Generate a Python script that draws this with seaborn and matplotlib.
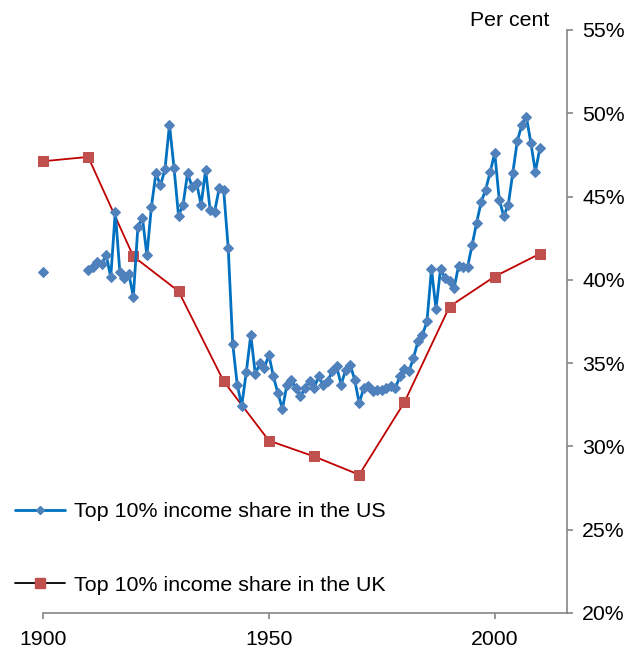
import pandas as pd
import matplotlib.pyplot as plt
import seaborn as sns
from matplotlib.lines import Line2D
from matplotlib.ticker import FuncFormatter, MultipleLocator

# US top 10% income share (per cent), isolated 1900 point plus 1910-2010
us_early_year = [1900]
us_early_share = [40.47]
us_years = list(range(1910, 2011))
us_share = [
    40.57, 40.80, 41.07, 40.97, 41.47, 40.15, 44.10, 40.50, 40.13, 40.35,  # 1910s
    39.00, 43.17, 43.74, 41.47, 44.40, 46.40, 45.67, 46.63, 49.30, 46.74,  # 1920s
    43.85, 44.50, 46.40, 45.60, 45.80, 44.50, 46.60, 44.20, 44.10, 45.50,  # 1930s
    45.37, 41.92, 36.16, 33.70, 32.45, 34.45, 36.70, 34.33, 35.00, 34.70,  # 1940s
    35.50, 34.20, 33.20, 32.25, 33.70, 34.00, 33.50, 33.00, 33.50, 33.90,  # 1950s
    33.50, 34.20, 33.70, 33.90, 34.50, 34.80, 33.70, 34.60, 34.90, 34.00,  # 1960s
    32.60, 33.50, 33.65, 33.30, 33.40, 33.40, 33.50, 33.60, 33.50, 34.20,  # 1970s
    34.65, 34.50, 35.30, 36.30, 36.70, 37.50, 40.65, 38.25, 40.65, 40.10,  # 1980s
    39.95, 39.50, 40.85, 40.75, 40.80, 42.10, 43.44, 44.68, 45.42, 46.48,  # 1990s
    47.62, 44.82, 43.82, 44.52, 46.42, 48.34, 49.29, 49.79, 48.22, 46.48,  # 2000s
    47.92,
]

# UK top 10% income share (per cent), decadal
uk_years = [1900, 1910, 1920, 1930, 1940, 1950, 1960, 1970, 1980, 1990, 2000, 2010]
uk_share = [47.12, 47.38, 41.41, 39.32, 33.91, 30.35, 29.40, 28.30, 32.65, 38.40, 40.20, 41.57]

us_label = "Top 10% income share in the US"
uk_label = "Top 10% income share in the UK"

us_df = pd.DataFrame({"year": us_years, "share": us_share})
us_early_df = pd.DataFrame({"year": us_early_year, "share": us_early_share})
uk_df = pd.DataFrame({"year": uk_years, "share": uk_share})

sns.set_theme(style="white")
plt.rcParams["font.family"] = ["Liberation Sans", "DejaVu Sans"]
plt.rcParams["text.color"] = "black"

fig = plt.figure(figsize=(6.38, 6.5), dpi=100)
ax = fig.add_axes([43 / 638, 37 / 650, (567 - 43) / 638, (613 - 30) / 650])

us_line_col = "#0070C0"
us_mark_col = "#4F81BD"
uk_line_col = "#C00000"
uk_mark_col = "#C0504D"

sns.lineplot(data=uk_df, x="year", y="share", ax=ax, color=uk_line_col, linewidth=1.3,
             marker="s", markersize=7.5, markerfacecolor=uk_mark_col,
             markeredgecolor=uk_mark_col, clip_on=False, zorder=2)
sns.lineplot(data=us_df, x="year", y="share", ax=ax, color=us_line_col, linewidth=2.0,
             marker="D", markersize=5, markerfacecolor=us_mark_col,
             markeredgecolor=us_mark_col, clip_on=False, zorder=3)
sns.lineplot(data=us_early_df, x="year", y="share", ax=ax, color=us_line_col,
             marker="D", markersize=5, markerfacecolor=us_mark_col,
             markeredgecolor=us_mark_col, clip_on=False, zorder=3)

ax.set_xlim(1900, 2016)
ax.set_ylim(20, 55)
ax.xaxis.set_major_locator(MultipleLocator(50))
ax.yaxis.set_major_locator(MultipleLocator(5))
ax.yaxis.set_major_formatter(FuncFormatter(lambda v, p: f"{v:.0f}%"))
ax.yaxis.tick_right()
ax.set_xlabel("")
ax.set_ylabel("")

axis_col = "#868686"
for side in ["left", "top"]:
    ax.spines[side].set_visible(False)
for side in ["bottom", "right"]:
    ax.spines[side].set_color(axis_col)
    ax.spines[side].set_linewidth(1.2)
ax.tick_params(axis="y", which="major", direction="out", length=4, width=1.2,
               color=axis_col, pad=7, labelsize=15.3, labelcolor="black",
               right=True, left=False)
ax.tick_params(axis="x", which="major", direction="out", length=4, width=1.2,
               color=axis_col, pad=8, labelsize=15.3, labelcolor="black", bottom=True)
ax.grid(False)

fig.text(549 / 638, 1 - 20 / 650, "Per cent", ha="right", va="center",
         fontsize=15.3, color="black")

handles = [
    Line2D([], [], color=us_line_col, linewidth=2.0, marker="D", markersize=4.5,
           markerfacecolor=us_mark_col, markeredgecolor=us_mark_col),
    Line2D([], [], color="black", linewidth=1.3, marker="s", markersize=7,
           markerfacecolor=uk_mark_col, markeredgecolor=uk_mark_col),
]
fig.legend(handles, [us_label, uk_label], loc="upper left",
           bbox_to_anchor=(15 / 638, 1 - 502 / 650), frameon=False, fontsize=15.4,
           handlelength=2.35, handletextpad=0.4, labelspacing=2.55,
           borderpad=0, borderaxespad=0, labelcolor="black")

fig.savefig("out.png", dpi=100)
